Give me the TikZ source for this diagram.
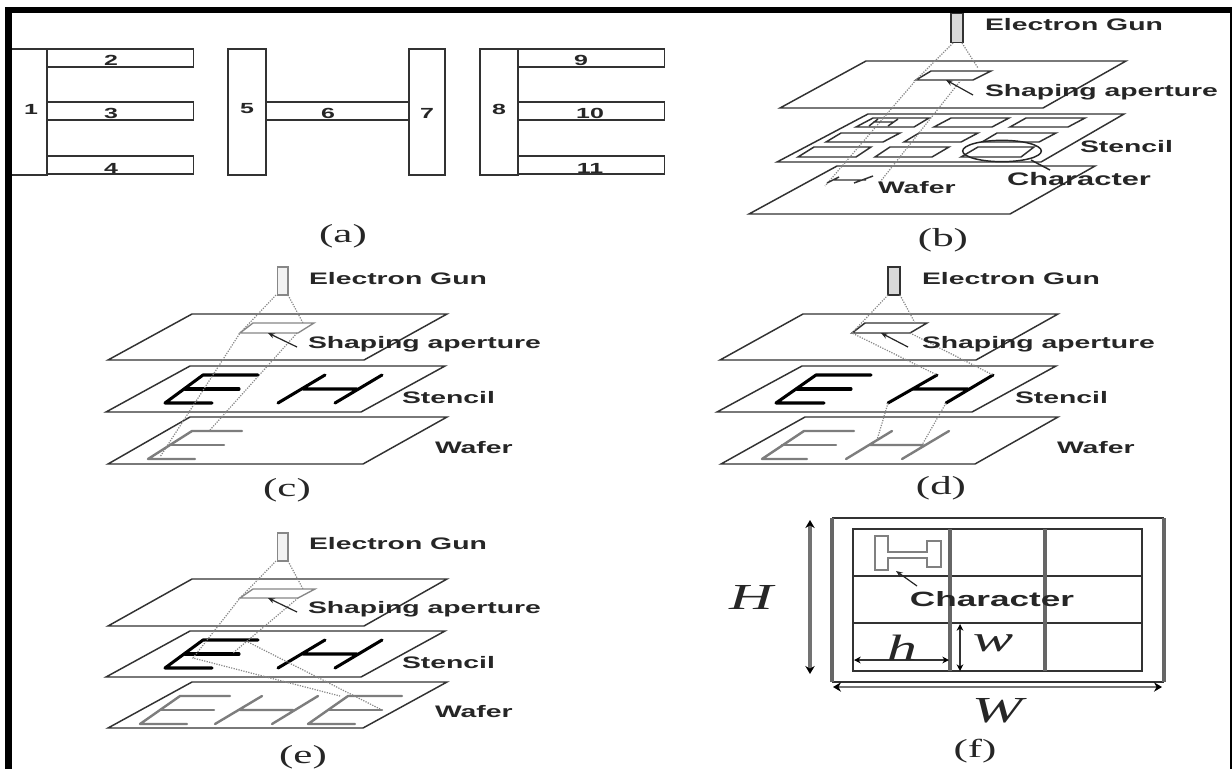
\documentclass[tikz,border=0pt]{standalone}
\usepackage{fontspec}
\setmainfont{Liberation Serif}
\setsansfont{Liberation Sans}
\newfontfamily\widesans[FakeStretch=1.7]{Liberation Sans}
\newfontfamily\wideserif[FakeStretch=1.65]{Liberation Serif}
\usetikzlibrary{arrows.meta,shapes.geometric}

% plate of a panel: back left x, back right x, front right x, front left x, back y, front y
\newcommand{\plate}[7]{%
	\node[corner] (#1a) at (#2,#6) {};
	\node[corner] (#1b) at (#3,#6) {};
	\node[corner] (#1c) at (#4,#7) {};
	\node[corner] (#1d) at (#5,#7) {};
	\draw[plateline] (#1a.center) -- (#1b.center) -- (#1c.center) -- (#1d.center) -- cycle;
}
% letter E: style, top y, spine top x, top arm end, spine bottom x, bottom y, bottom arm end, mid x, mid y
\newcommand{\letterE}[9]{%
	\draw[#1] (#4,#2) -- (#3,#2) -- (#5,#6) -- (#7,#6);
	\draw[#1] (#8,#9) -- ++(54,0);
}

\begin{document}
\begin{tikzpicture}[x=0.75pt,y=-0.75pt,every node/.style={inner sep=0pt,outer sep=0pt}]
	% Define colors
	\definecolor{frameblack}{RGB}{0, 0, 0}
	\definecolor{linegray}{RGB}{50, 50, 50}
	\definecolor{beamgray}{RGB}{135, 135, 135}
	\definecolor{wafergray}{RGB}{125, 125, 125}

	% Styles
	\tikzset{
		corner/.style={minimum size=0pt},
		plateline/.style={draw=linegray, line width=1.1pt},
		barbox/.style={draw=linegray, line width=1.2pt, fill=white, anchor=north west},
		num/.style={font=\widesans\bfseries\fontsize{11}{11}\selectfont, text=black!85},
		tag/.style={font=\widesans\bfseries\fontsize{12.5}{12.5}\selectfont, text=black!85, anchor=west},
		chartag/.style={tag, font=\widesans\bfseries\fontsize{#1}{#1}\selectfont},
		captag/.style={font=\wideserif\fontsize{19.5}{19.5}\selectfont, text=black!85},
		beam/.style={draw=beamgray, densely dotted, line width=0.9pt},
		gun/.style={draw=linegray, line width=1pt, fill=black!15, minimum width=9pt, minimum height=21pt},
		gunpale/.style={draw=beamgray, line width=1pt, fill=black!5, minimum width=8pt, minimum height=21pt},
		pointer/.style={-{Stealth[length=5pt,width=4pt]}, draw=black!85, line width=0.9pt},
		stencilE/.style={draw=black, line width=2.3pt, line join=round, line cap=round},
		waferE/.style={draw=wafergray, line width=1.8pt, line join=round, line cap=round},
		dimen/.style={{Stealth[length=5pt,width=5pt,black]}-{Stealth[length=5pt,width=5pt,black]}, draw=black!80, line width=1pt},
		dimenbig/.style={{Stealth[length=6pt,width=7pt,black]}-{Stealth[length=6pt,width=7pt,black]}, draw=black!55, line width=2.4pt},
		gridthin/.style={draw=linegray, line width=1pt},
		gridthick/.style={draw=black!60, line width=2.3pt},
		symbol/.style={font=\wideserif\itshape\fontsize{27.5}{27.5}\selectfont, text=black!85}
	}

	\useasboundingbox (0,0) rectangle (1232,769);
	\fill[white] (0,0) rectangle (1232,769);

	% Panel (a)
	\node[barbox, minimum width=110pt, minimum height=13.5pt] (arm2) at (47,49) {};
	\node[barbox, minimum width=110pt, minimum height=13.5pt] (arm3) at (47,102) {};
	\node[barbox, minimum width=110pt, minimum height=13.5pt] (arm4) at (47,156) {};
	\node[barbox, minimum width=27.75pt, minimum height=94.5pt] (bar1) at (10,49) {};
	\node[barbox, minimum width=28.5pt, minimum height=94.5pt] (bar5) at (228,49) {};
	\node[barbox, minimum width=27pt, minimum height=94.5pt] (bar7) at (409,49) {};
	\node[barbox, minimum width=107pt, minimum height=13.5pt] (arm6) at (266,102) {};
	\node[barbox, minimum width=110pt, minimum height=13.5pt] (arm9) at (518,49) {};
	\node[barbox, minimum width=110pt, minimum height=13.5pt] (arm10) at (518,102) {};
	\node[barbox, minimum width=110pt, minimum height=13.5pt] (arm11) at (518,156) {};
	\node[barbox, minimum width=28.5pt, minimum height=94.5pt] (bar8) at (480,49) {};
	\node[num] (n1) at (31,109) {1};
	\node[num] (n2) at (111,60) {2};
	\node[num] (n3) at (111,113) {3};
	\node[num] (n4) at (111,168) {4};
	\node[num] (n5) at (247,109) {5};
	\node[num] (n6) at (328,113) {6};
	\node[num] (n7) at (427,113) {7};
	\node[num] (n8) at (499,109) {8};
	\node[num] (n9) at (581,60) {9};
	\node[num] (n10) at (590,113) {10};
	\node[num] (n11) at (590,168) {11};
	\node[captag] (capa) at (343,236) {(a)};

	% Panel (b)
	\plate{ba}{866}{1126}{1043}{780}{61}{108}
	\plate{bb}{868}{1124}{1041}{777}{114}{162}
	\plate{bc}{837}{1095}{1010}{749}{166}{214}
	\node[gun, minimum height=22pt, anchor=north] (gunb) at (957,13) {};
	\plate{bd}{931}{991}{973}{916}{71}{80}
	\foreach \xa/\xb/\xc/\xd/\ya/\yb in {873/929/914/856/118/127, 951/1009/992/934/118/127, 1026/1085/1068/1010/118/127,
		841/900/883/826/133/142, 919/978/961/904/133/142, 997/1056/1039/982/133/142,
		814/871/856/798/147/157, 890/949/932/875/147/157, 978/1034/1021/961/147/157} {
		\draw[plateline] (\xa,\ya) -- (\xb,\ya) -- (\xc,\yb) -- (\xd,\yb) -- cycle;
	}
	\node[draw=black!85, line width=1.1pt, ellipse, minimum width=59pt, minimum height=16pt] (ringb) at (1002,151) {};
	\coordinate (ringtail) at (1050,170);
	\draw[draw=black!85, line width=1.1pt] (1031,160) -- (ringtail);
	\coordinate (beamba) at (953,43);
	\coordinate (beambb) at (962,43);
	\draw[beam] (beamba) -- (bdd.center);
	\draw[beam] (beambb) -- (978,68);
	\draw[beam] (bdd.center) -- (825,186);
	\draw[beam] (961,80) -- (880,182);
	% small H on stencil and on wafer
	\draw[plateline] (869,126) -- (878,119) (888,126) -- (898,119) (873,122) -- (893,122);
	\draw[plateline] (827,183) -- (839,177) (854,183) -- (873,176) (834,180) -- (866,180);
	\coordinate (ptrb) at (973,95);
	\draw[pointer] (ptrb) -- (946,80);
	\node[tag] (egunb) at (985,25) {Electron Gun};
	\node[tag] (shapeb) at (985,92) {Shaping aperture};
	\node[tag] (stenb) at (1080,147) {Stencil};
	\node[chartag=13.6] (charb) at (1007,179) {Character};
	\node[tag] (wafb) at (878,188) {Wafer};
	\node[captag] (capb) at (943,240) {(b)};

	% Panel (c)
	\plate{ca}{192}{447}{364}{108}{314}{360}
	\plate{cb}{190}{445}{361}{106}{366}{412}
	\plate{cc}{190}{447}{363}{108}{417}{464}
	\node[gunpale, anchor=north] (gunc) at (282.5,267) {};
	\draw[draw=beamgray, line width=1pt] (253,323) -- (314,323) -- (298,333) -- (240,333) -- cycle;
	\letterE{stencilE}{375}{203}{258}{165}{403}{212}{185}{389}
	\draw[stencilE] (278,403) -- (325,375) (335,403) -- (382,375) (303,389) -- (357,389);
	\letterE{waferE}{431}{192}{242}{148}{459}{195}{170}{445}
	\draw[beam] (276,295) -- (240,333) -- (160,457);
	\draw[beam] (288,295) -- (303,323);
	\draw[beam] (297,333) -- (210,430);
	\coordinate (ptrc) at (297,347);
	\draw[pointer] (ptrc) -- (268,333);
	\node[tag] (egunc) at (309,279) {Electron Gun};
	\node[tag] (shapec) at (308,344) {Shaping aperture};
	\node[tag] (stenc) at (402,398) {Stencil};
	\node[tag] (wafc) at (435,448) {Wafer};
	\node[captag] (capc) at (287,490) {(c)};

	% Panel (d)
	\plate{da}{803}{1058}{976}{720}{314}{360}
	\plate{db}{802}{1056}{972}{717}{366}{412}
	\plate{dc}{805}{1058}{975}{721}{417}{464}
	\node[gun, anchor=north] (gund) at (894,267) {};
	\plate{dd}{865}{927}{910}{852}{323}{333}
	\letterE{stencilE}{375}{816}{871}{776}{403}{824}{797}{389}
	\draw[stencilE] (888,403) -- (937,375) (946,403) -- (993,375) (913,389) -- (968,389);
	\letterE{waferE}{431}{804}{854}{762}{459}{807}{782}{445}
	\draw[waferE] (846,459) -- (892,431) (902,459) -- (949,431) (870,445) -- (923,445);
	\draw[beam] (888,295) -- (ddd.center) -- (937,375);
	\draw[beam] (900,295) -- (915,323);
	\draw[beam] (ddc.center) -- (993,375);
	\draw[beam] (888,403) -- (877,440);
	\draw[beam] (946,403) -- (922,445);
	\coordinate (ptrd) at (908,347);
	\draw[pointer] (ptrd) -- (881,333);
	\node[tag] (egund) at (922,279) {Electron Gun};
	\node[tag] (shaped) at (922,344) {Shaping aperture};
	\node[tag] (stend) at (1015,398) {Stencil};
	\node[tag] (wafd) at (1057,448) {Wafer};
	\node[captag] (capd) at (941,488) {(d)};

	% Panel (e)
	\plate{ea}{192}{447}{364}{108}{579}{626}
	\plate{eb}{190}{445}{361}{106}{631}{677}
	\plate{ec}{192}{447}{363}{108}{682}{728}
	\node[gunpale, anchor=north] (gune) at (282.5,533) {};
	\draw[draw=beamgray, line width=1pt] (253,589) -- (315,589) -- (298,598) -- (240,598) -- cycle;
	\letterE{stencilE}{640}{203}{258}{165}{668}{212}{185}{654}
	\draw[stencilE] (278,668) -- (325,640) (335,668) -- (382,640) (303,654) -- (357,654);
	\letterE{waferE}{696}{180}{230}{140}{724}{187}{160}{710}
	\draw[waferE] (215,724) -- (262,696) (272,724) -- (318,696) (240,710) -- (293,710);
	\letterE{waferE}{696}{348}{402}{308}{724}{355}{328}{710}
	\draw[beam] (276,561) -- (240,598) -- (193,658) -- (340,696);
	\draw[beam] (288,561) -- (303,589);
	\draw[beam] (298,598) -- (233,653);
	\draw[beam] (248,642) -- (382,710);
	\coordinate (ptre) at (297,612);
	\draw[pointer] (ptre) -- (268,598);
	\node[tag] (egune) at (309,544) {Electron Gun};
	\node[tag] (shapee) at (308,609) {Shaping aperture};
	\node[tag] (stene) at (402,663) {Stencil};
	\node[tag] (wafe) at (435,712) {Wafer};
	\node[captag] (cape) at (303,757) {(e)};

	% Panel (f)
	\draw[gridthin] (832,518) -- (1164,518) (832,682) -- (1164,682);
	\draw[gridthick] (832,518) -- (832,682) (1164,518) -- (1164,682);
	\draw[gridthin] (853,529) rectangle (1142,671);
	\draw[gridthin] (853,576) -- (1142,576) (853,623) -- (1142,623);
	\draw[gridthick] (950,529) -- (950,671) (1045,529) -- (1045,671);
	\draw[draw=black!50, line width=1.4pt] (875,536) -- (888,536) -- (888,552) -- (927,552) -- (927,541) -- (941,541) -- (941,567) -- (927,567) -- (927,558) -- (888,558) -- (888,570) -- (875,570) -- cycle;
	\coordinate (ptrf) at (917,586);
	\draw[pointer] (ptrf) -- (896,571);
	\node[chartag=15.5, anchor=center] (charf) at (992,599) {Character};
	\coordinate (dimHa) at (810,520);
	\coordinate (dimHb) at (810,674);
	\coordinate (dimWa) at (833,687);
	\coordinate (dimWb) at (1162,687);
	\coordinate (dimha) at (854,660);
	\coordinate (dimhb) at (949,660);
	\coordinate (dimwa) at (960,624);
	\coordinate (dimwb) at (960,671);
	\draw[dimenbig] (dimHa) -- (dimHb);
	\draw[dimenbig, line width=1.6pt] (dimWa) -- (dimWb);
	\draw[dimen] (dimha) -- (dimhb);
	\draw[dimen] (dimwa) -- (dimwb);
	\node[symbol] (symH) at (751,597) {H};
	\node[symbol] (symW) at (997,711) {W};
	\node[symbol] (symh) at (902,648) {h};
	\node[symbol] (symw) at (993,643) {w};
	\node[captag] (capf) at (975,751) {(f)};

	% Page frame
	\fill[frameblack] (5,7) rectangle (1232,12.5);
	\fill[frameblack] (5,7) rectangle (11.5,769);
	\fill[frameblack] (1229.5,7) rectangle (1232,769);
\end{tikzpicture}
\end{document}
